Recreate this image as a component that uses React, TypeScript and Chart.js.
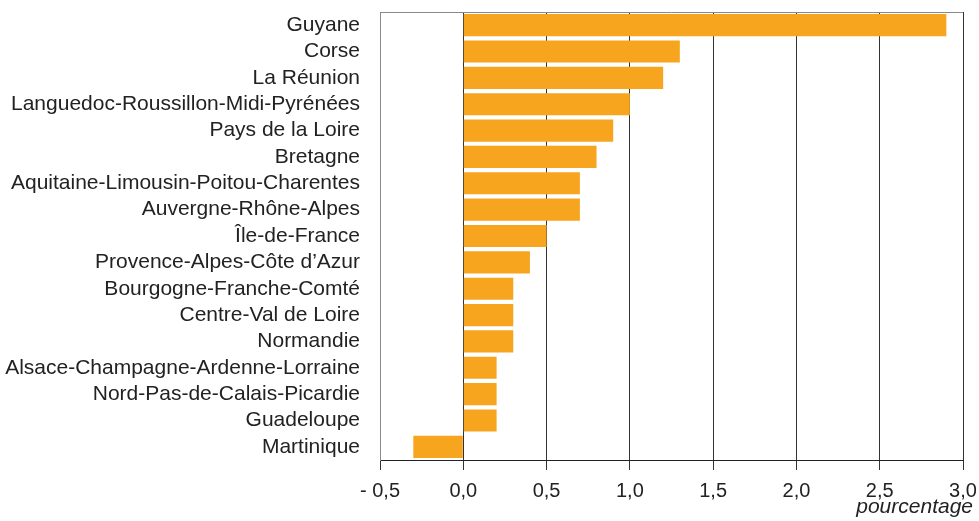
import React, { useEffect, useRef } from "react";
import { Chart, registerables } from "chart.js";

Chart.register(...registerables);

const regions = [
  "Guyane",
  "Corse",
  "La Réunion",
  "Languedoc-Roussillon-Midi-Pyrénées",
  "Pays de la Loire",
  "Bretagne",
  "Aquitaine-Limousin-Poitou-Charentes",
  "Auvergne-Rhône-Alpes",
  "Île-de-France",
  "Provence-Alpes-Côte d’Azur",
  "Bourgogne-Franche-Comté",
  "Centre-Val de Loire",
  "Normandie",
  "Alsace-Champagne-Ardenne-Lorraine",
  "Nord-Pas-de-Calais-Picardie",
  "Guadeloupe",
  "Martinique",
];

const values = [2.9, 1.3, 1.2, 1.0, 0.9, 0.8, 0.7, 0.7, 0.5, 0.4, 0.3, 0.3, 0.3, 0.2, 0.2, 0.2, -0.3];

const xMin = -0.5;
const xMax = 3.0;
const xStep = 0.5;
const axisTitle = "pourcentage";

const FONT = "'Liberation Sans', Arial, sans-serif";

export default function App() {
  const ref = useRef<HTMLCanvasElement | null>(null);

  useEffect(() => {
    document.body.style.margin = "0";
    const extras = {
      id: "extras",
      afterDraw(chart: any) {
        const { ctx, chartArea } = chart;
        ctx.save();
        ctx.strokeStyle = "#8a8a8a";
        ctx.lineWidth = 1;
        ctx.beginPath();
        ctx.moveTo(chartArea.left, chartArea.top + 0.5);
        ctx.lineTo(chartArea.right, chartArea.top + 0.5);
        ctx.stroke();
        ctx.fillStyle = "#222";
        ctx.font = `italic 21px ${FONT}`;
        ctx.textAlign = "right";
        ctx.textBaseline = "alphabetic";
        ctx.fillText(axisTitle, chart.width - 6, chart.height - 8);
        ctx.restore();
      },
    };
    const chart = new Chart(ref.current!, {
      type: "bar",
      data: {
        labels: regions,
        datasets: [
          {
            data: values,
            backgroundColor: "#F7A51E",
            borderWidth: 0,
            barPercentage: 0.84,
            categoryPercentage: 1,
          },
        ],
      },
      plugins: [extras],
      options: {
        indexAxis: "y",
        animation: false,
        responsive: false,
        maintainAspectRatio: false,
        layout: { padding: { top: 12, right: 0, left: 0, bottom: 9 } },
        plugins: { legend: { display: false }, tooltip: { enabled: false } },
        scales: {
          x: {
            min: xMin,
            max: xMax,
            ticks: {
              stepSize: xStep,
              color: "#222",
              font: { family: FONT, size: 20 },
              padding: 9,
              callback: (v: any) => {
                const n = Number(v);
                const s = Math.abs(n).toFixed(1).replace(".", ",");
                return n < 0 ? "- " + s : s;
              },
            },
            grid: {
              color: "#333",
              lineWidth: 1,
              tickLength: 10,
              drawTicks: true,
            },
            border: { display: true, color: "#222", width: 1 },
            afterFit: (scale: any) => {
              scale.paddingRight = 16;
              scale.paddingLeft = 0;
            },
          },
          y: {
            ticks: {
              color: "#222",
              font: { family: FONT, size: 21 },
              padding: 12,
              autoSkip: false,
            },
            grid: { display: false },
            border: { display: true, color: "#8a8a8a", width: 1 },
            afterFit: (scale: any) => {
              scale.width = 380;
              scale.paddingTop = 0;
              scale.paddingBottom = 0;
            },
          },
        },
      },
    });
    return () => chart.destroy();
  }, []);

  return <canvas ref={ref} width={979} height={521} style={{ display: "block" }} />;
}
